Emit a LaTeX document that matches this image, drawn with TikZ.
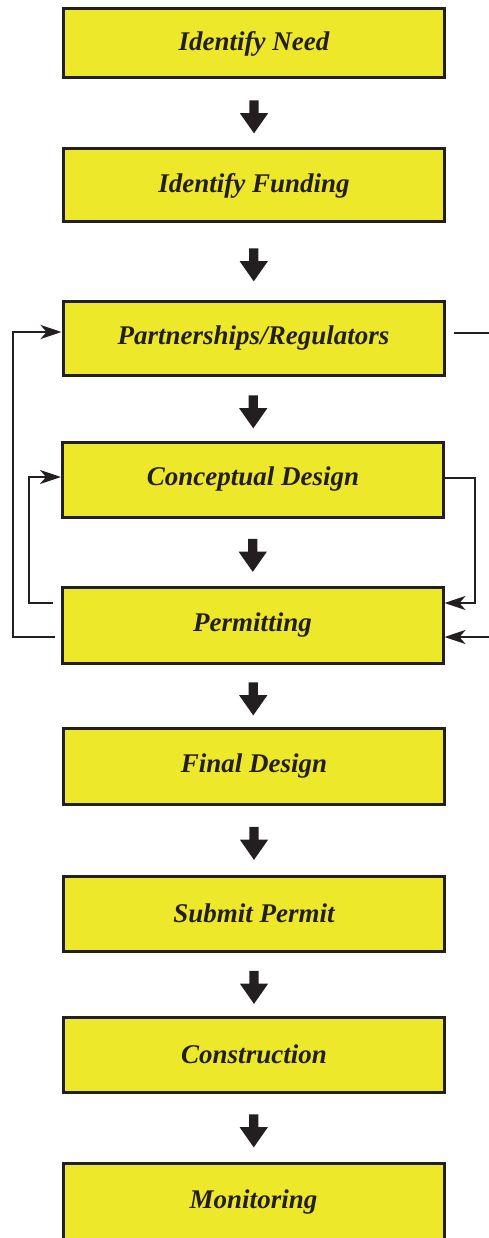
\documentclass[tikz,border=0pt]{standalone}
\usepackage{fontspec}
\setmainfont{Liberation Serif}
\usetikzlibrary{shapes.arrows,arrows.meta,calc}
\definecolor{boxfill}{RGB}{238,232,42}
\definecolor{ink}{RGB}{35,31,32}
\begin{document}
\begin{tikzpicture}[x=1pt,y=-1pt,
  stepbox/.style={draw=ink, line width=3pt, fill=boxfill, minimum width=381pt, inner sep=0pt,
    font=\fontsize{27}{32}\selectfont\bfseries\itshape, text=ink},
  downarr/.style={shape=single arrow, fill=ink, draw=none, rotate=-90, minimum height=33pt,
    inner xsep=0pt, inner ysep=4.5pt, single arrow head extend=9.5pt, single arrow tip angle=70},
  fb/.style={draw=ink, line width=2pt},
  fbarrow/.style={fb, -{Stealth[length=21pt 0 0,width=14pt 0 0,inset=6pt 0]}}]
\useasboundingbox (0,0) rectangle (489,1238);
\clip (0,0) rectangle (489,1238);
\node[stepbox, minimum height=69pt] (n1) at (254,43.5) {Identify Need};
\node[stepbox, minimum height=73pt] (n2) at (254,185.5) {Identify Funding};
\node[stepbox, minimum height=74pt] (n3) at (253.5,338) {Partnerships/Regulators};
\node[stepbox, minimum height=75pt] (n4) at (253,479.5) {Conceptual Design};
\node[stepbox, minimum height=76pt] (n5) at (252.5,625) {Permitting};
\node[stepbox, minimum height=76pt] (n6) at (254,766) {Final Design};
\node[stepbox, minimum height=75pt] (n7) at (254,913.5) {Submit Permit};
\node[stepbox, minimum height=75pt] (n8) at (254,1054.5) {Construction};
\node[stepbox, minimum height=78pt] (n9) at (253.5,1202) {Monitoring};
\foreach \a/\b in {n1/n2,n2/n3,n3/n4,n4/n5,n5/n6,n6/n7,n7/n8,n8/n9}
  \path (\a.south) -- node[downarr]{} (\b.north);
\draw[fbarrow] ([xshift=-6pt,yshift=-12pt]n5.west) -- ++(-42,0) |- ([yshift=6pt]n3.west);
\draw[fbarrow] ([xshift=-8pt,yshift=22pt]n5.west) -- ++(-24,0) |- ([yshift=2.5pt]n4.west);
\draw[fbarrow] ([yshift=2pt]n4.east) -- ++(30,0) |- ([yshift=22pt]n5.east);
\coordinate (r1) at (489,333);
\coordinate (r2) at (489,637);
\draw[fb] ([xshift=8pt,yshift=5pt]n3.east) -- (r1);
\draw[fbarrow] (r2) -- ([yshift=-12pt]n5.east);
\end{tikzpicture}
\end{document}
